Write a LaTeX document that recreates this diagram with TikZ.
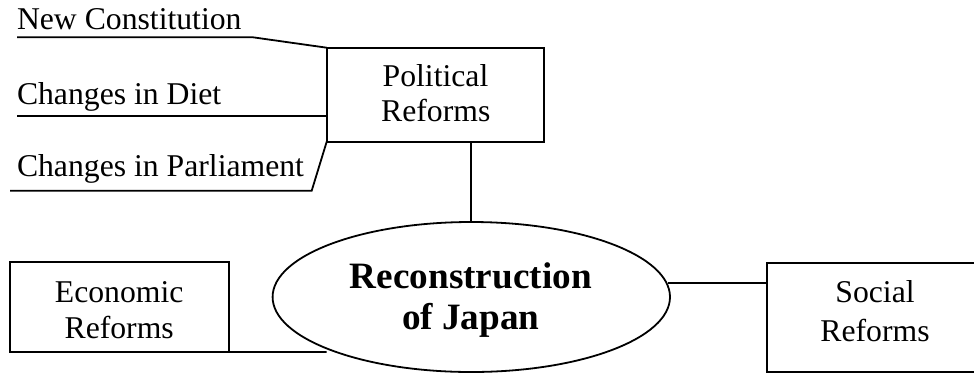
\documentclass[tikz,border=0pt]{standalone}
\usepackage{fontspec}
\setmainfont{Liberation Serif}
\usetikzlibrary{shapes.geometric}
\begin{document}
\begin{tikzpicture}[x=1pt,y=-1pt,
  line width=1.8pt,
  box/.style={draw, rectangle, inner sep=0pt, outer sep=0pt},
  lbl/.style={inner sep=0pt, outer sep=0pt, font=\fontsize{31.7}{34}\selectfont},
  blbl/.style={inner sep=0pt, outer sep=0pt, font=\fontsize{37.2}{42}\selectfont\bfseries},
  conn/.style={draw, line width=1.8pt}]
\useasboundingbox (0,0) rectangle (974,373);
\clip (0,0) rectangle (974,373);
% boxes
\node[box, minimum width=217.6pt, minimum height=94pt] (pol) at (435.5,94.7) {};
\node[box, minimum width=218.7pt, minimum height=89.7pt] (eco) at (119.35,307.15) {};
\node[box, minimum width=217pt, minimum height=109pt] (soc) at (875.2,317.5) {};
\node[draw, ellipse, inner sep=0pt, outer sep=0pt, minimum width=397.4pt, minimum height=150pt] (ell) at (471.3,297) {};
% box texts
\node[lbl, anchor=base] (polA) at (435.5,86.7) {Political};
\node[lbl, anchor=base] (polB) at (435.8,121) {Reforms};
\node[lbl, anchor=base] (ecoA) at (119.2,302.7) {Economic};
\node[lbl, anchor=base] (ecoB) at (119.2,338.3) {Reforms};
\node[lbl, anchor=base] (socA) at (875,302.7) {Social};
\node[lbl, anchor=base] (socB) at (875,341) {Reforms};
\node[blbl, anchor=base] (ellA) at (470.8,288.3) {Reconstruction};
\node[blbl, anchor=base] (ellB) at (470.8,329.3) {of Japan};
% left labels
\node[lbl, anchor=base west] (nc) at (17,29.3) {New Constitution};
\node[lbl, anchor=base west] (cd) at (17,104) {Changes in Diet};
\node[lbl, anchor=base west] (cp) at (17,176.7) {Changes in Parliament};
% coordinates for free ends
\coordinate (ncL) at (17,37.3);
\coordinate (ncK) at (253,37.3);
\coordinate (cdL) at (17,116.3);
\coordinate (cpL) at (10,190.7);
\coordinate (cpK) at (311.7,190.7);
\coordinate (ecoEnd) at (326.7,352);
\coordinate (socStart) at (668,283.3);
% connectors
\draw[conn] (ncL) -- (ncK) -- (pol.north west);
\draw[conn] (cdL) -- (cdL -| pol.west);
\draw[conn] (cpL) -- (cpK) -- (pol.south west);
\draw[conn] (pol.south -| ell.north) -- (ell.north);
\draw[conn] (eco.south east) -- (ecoEnd);
\draw[conn] (socStart) -- (socStart -| soc.west);
\end{tikzpicture}
\end{document}
